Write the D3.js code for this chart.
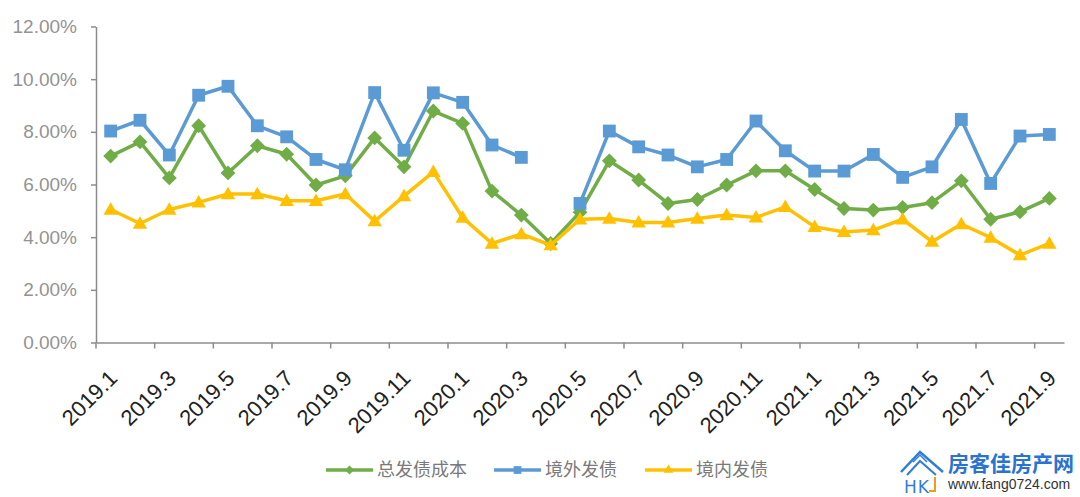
<!DOCTYPE html>
<html><head><meta charset="utf-8">
<script src="https://cdn.jsdelivr.net/npm/d3@7/dist/d3.min.js"></script>
<style>
html,body{margin:0;padding:0;background:#fff;}
svg{display:block;}
</style></head>
<body>
<svg id="chart" width="1080" height="497"></svg>
<script>
const months = ["2019.1","2019.2","2019.3","2019.4","2019.5","2019.6","2019.7","2019.8","2019.9","2019.10","2019.11","2019.12",
"2020.1","2020.2","2020.3","2020.4","2020.5","2020.6","2020.7","2020.8","2020.9","2020.10","2020.11","2020.12",
"2021.1","2021.2","2021.3","2021.4","2021.5","2021.6","2021.7","2021.8","2021.9"];
const totalCost = [7.08,7.62,6.25,8.23,6.44,7.47,7.15,5.98,6.33,7.77,6.67,8.79,8.32,5.75,4.84,3.76,4.95,6.90,6.17,5.28,5.43,5.98,6.52,6.52,5.81,5.09,5.03,5.13,5.31,6.14,4.68,4.96,5.47];
const overseas = [8.03,8.44,7.12,9.39,9.73,8.23,7.81,6.95,6.56,9.49,7.30,9.48,9.12,7.50,7.03,null,5.28,8.03,7.43,7.12,6.67,6.95,8.41,7.28,6.51,6.51,7.14,6.27,6.67,8.47,6.04,7.84,7.90];
const domestic = [5.05,4.52,5.05,5.32,5.64,5.64,5.38,5.38,5.64,4.61,5.56,6.48,4.74,3.76,4.12,3.70,4.68,4.71,4.56,4.56,4.71,4.84,4.75,5.15,4.39,4.20,4.27,4.68,3.83,4.50,3.98,3.32,3.76];
const yTicks = [0,2,4,6,8,10,12];
const seriesNames = ["总发债成本","境外发债","境内发债"];
const colors = ["#70AD47","#5B9BD5","#FFC000"];

// Excel-style diamond: a square turned 45 degrees
const excelDiamond = { draw(ctx, size) { const r = Math.sqrt(size / 2); ctx.moveTo(0,-r); ctx.lineTo(r,0); ctx.lineTo(0,r); ctx.lineTo(-r,0); ctx.closePath(); } };
const markers = [excelDiamond, d3.symbolSquare, d3.symbolTriangle];

const svg = d3.select("#chart");
const x = d3.scaleBand().domain(months).range([96, 1064]);
const y = d3.scaleLinear().domain([0, 12]).range([342.5, 26.5]);
const axisColor = "#8c8c8c";

// Y axis
const yAxis = svg.append("g").attr("transform","translate(96,0)")
  .call(d3.axisLeft(y).tickValues(yTicks).tickSize(5).tickSizeOuter(0).tickFormat(d => d.toFixed(2) + "%"));
yAxis.select(".domain").attr("stroke", axisColor).attr("stroke-width", 1.5);
yAxis.selectAll(".tick line").attr("stroke", axisColor).attr("stroke-width", 1.5);
yAxis.selectAll(".tick text").attr("x", -19).attr("fill", "#939393")
  .style("font-family","'Liberation Sans', Arial, sans-serif").style("font-size","19px");

// X axis: labels every other month at category centres
const labelMonths = months.filter((m,i) => i % 2 === 0);
const xAxis = svg.append("g").attr("transform","translate(0,342.5)")
  .call(d3.axisBottom(x).tickValues(labelMonths).tickSize(0).tickSizeOuter(0));
xAxis.select(".domain").attr("stroke", axisColor).attr("stroke-width", 1.5);
xAxis.selectAll(".tick text")
  .attr("text-anchor","end").attr("x",0).attr("y",0).attr("dy",0)
  .attr("transform","translate(8,37) rotate(-45)")
  .attr("fill","#222")
  .style("font-family","'Liberation Sans', Arial, sans-serif").style("font-size","22px");
// tick marks at category boundaries, every 2 categories
xAxis.selectAll("line.bt").data(labelMonths).enter().append("line").attr("class","bt")
  .attr("x1", d => x(d)).attr("x2", d => x(d)).attr("y1", 0).attr("y2", 6)
  .attr("stroke", axisColor).attr("stroke-width", 1.5);

// Series
const seriesData = [totalCost, overseas, domestic];
const cx = d => x(d.m) + x.bandwidth()/2;
const sizes = [110, 165, 90];
seriesData.forEach((vals, si) => {
  const pts = vals.map((v,i) => ({m: months[i], v}));
  const line = d3.line().defined(d => d.v != null).x(cx).y(d => y(d.v));
  svg.append("path").datum(pts).attr("d", line).attr("fill","none")
    .attr("stroke", colors[si]).attr("stroke-width", 3.5).attr("stroke-linejoin","round");
  svg.append("g").selectAll("path").data(pts.filter(d => d.v != null)).enter().append("path")
    .attr("d", d3.symbol().type(markers[si]).size(sizes[si]))
    .attr("transform", d => `translate(${cx(d)},${y(d.v) + (si===2?1:0)})`)
    .attr("fill", colors[si]);
});

// Legend
const legendX = [326, 494, 645];
const legend = svg.append("g");
seriesNames.forEach((name, i) => {
  const g = legend.append("g").attr("transform", `translate(${legendX[i]},470)`);
  g.append("line").attr("x1",0).attr("x2",47).attr("y1",0).attr("y2",0)
    .attr("stroke", colors[i]).attr("stroke-width", 3.5);
  g.append("path").attr("d", d3.symbol().type(markers[i]).size([40, 60, 40][i])())
    .attr("transform", "translate(23.5,0)").attr("fill", colors[i]);
  g.append("text").attr("x", 51).attr("y", 0).attr("dy","0.36em").text(name)
    .attr("fill","#7a7a7a").style("font-family","'Noto Sans CJK SC', sans-serif").style("font-size","18px");
});

// Watermark logo
const logo = svg.append("g");
logo.append("path").attr("d","M901,472 L920,452 L943,472").attr("fill","none").attr("stroke","#2f7fd6").attr("stroke-width",2.5);
logo.append("path").attr("d","M907,475 L920,461 L936,475").attr("fill","none").attr("stroke","#2f7fd6").attr("stroke-width",2);
logo.append("path").attr("d","M913,462 L920,455 L927,462").attr("fill","none").attr("stroke","#2f7fd6").attr("stroke-width",1.5);
logo.append("text").attr("x",904).attr("y",493).text("HK")
  .attr("fill","#2f7fd6").style("font-family","'DejaVu Sans', sans-serif").style("font-size","17px").style("letter-spacing","1px");
logo.append("path").attr("d","M935,477 L935,491 L929,491").attr("fill","none").attr("stroke","#f39a1e").attr("stroke-width",2);
logo.append("text").attr("x",948).attr("y",471).text("房客佳房产网")
  .attr("fill","#2b73d0").style("font-family","'Noto Sans CJK SC', sans-serif").style("font-size","21px").style("font-weight","bold");
logo.append("text").attr("x",948).attr("y",489).text("www.fang0724.com")
  .attr("fill","#333").style("font-family","'Liberation Sans', Arial, sans-serif").style("font-size","14px");
</script>
</body></html>
